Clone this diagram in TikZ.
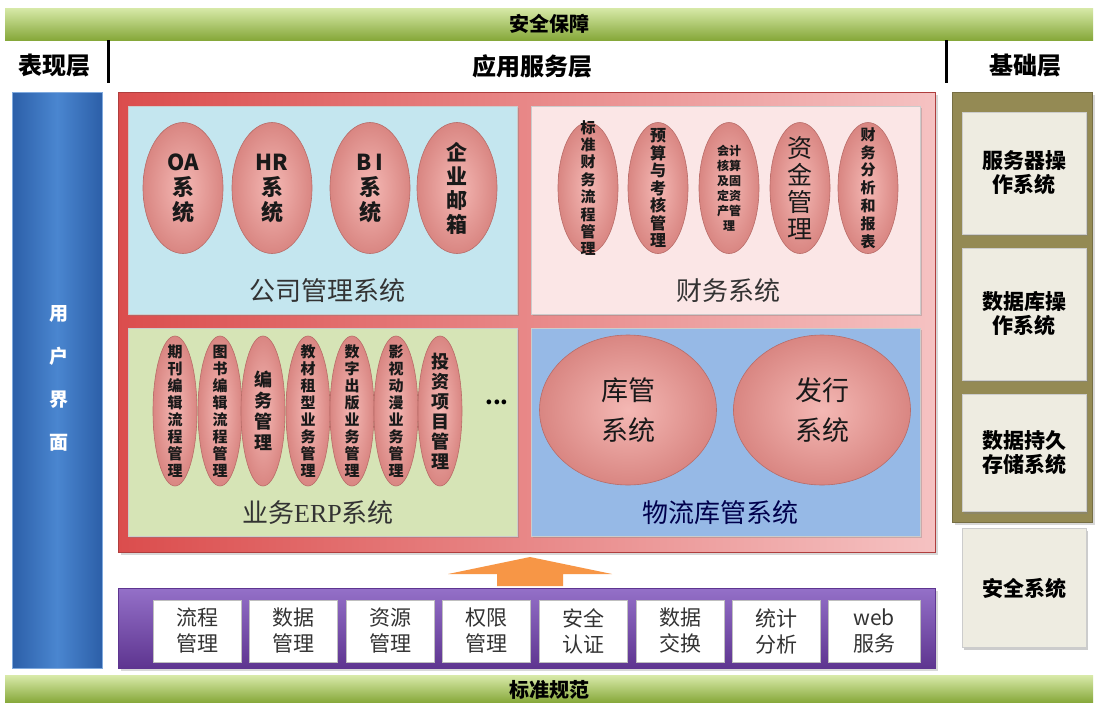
\documentclass[tikz,border=0pt]{standalone}
\usepackage{fontspec}
\setmainfont{Noto Sans CJK SC}
\newfontfamily\erpfont{Liberation Serif}
\usetikzlibrary{shapes.geometric,shadows}
\definecolor{barGreenTop}{HTML}{D7E9A8}
\definecolor{barGreenBot}{HTML}{86A83A}
\definecolor{uiBlueA}{HTML}{4A86D0}
\definecolor{uiBlueB}{HTML}{2C5FA8}
\definecolor{frameRedL}{HTML}{DB4D4D}
\definecolor{frameRedR}{HTML}{F5C2C2}
\definecolor{compBlue}{HTML}{C4E6EF}
\definecolor{finPink}{HTML}{FBE6E6}
\definecolor{erpGreen}{HTML}{D6E4B6}
\definecolor{logBlue}{HTML}{96B9E6}
\definecolor{ellIn}{HTML}{F4B8B4}
\definecolor{ellOut}{HTML}{D98682}
\definecolor{ellLine}{HTML}{B86C68}
\definecolor{arrowOrange}{HTML}{F79646}
\definecolor{purpTop}{HTML}{9470C8}
\definecolor{purpBot}{HTML}{5E3590}
\definecolor{olive}{HTML}{948A54}
\definecolor{beige}{HTML}{EEECE1}
\tikzset{
  greenbar/.style={rectangle, top color=barGreenTop, bottom color=barGreenBot, draw=none},
  layerhead/.style={font=\fontsize{24}{26}\selectfont\bfseries},
  sysbox/.style={rectangle, draw=white!80!black, line width=0.8pt, drop shadow={opacity=0.35, shadow xshift=2pt, shadow yshift=-2pt}},
  ell/.style={ellipse, draw=ellLine, line width=0.6pt, inner color=ellIn, outer color=ellOut, inner sep=0pt},
  elltext/.style={align=center, inner sep=0pt, text=black!90},
  systitle/.style={font=\fontsize{26}{30}\selectfont, text=black!80},
  svcbox/.style={rectangle, fill=white, draw=black!25, minimum width=88pt, minimum height=62pt, align=center, font=\fontsize{21}{26}\selectfont, text=black!80, inner sep=0pt},
  basebox/.style={rectangle, fill=beige, draw=black!20, minimum width=124pt, align=center, font=\fontsize{21}{24}\selectfont\bfseries, inner sep=0pt, drop shadow={opacity=0.4, shadow xshift=2pt, shadow yshift=-2pt}},
}
\begin{document}
\begin{tikzpicture}[x=1pt,y=-1pt]
\useasboundingbox (0,0) rectangle (1098,702);
\fill[white] (0,0) rectangle (1098,702);

% top and bottom bars
\node[greenbar, minimum width=1088pt, minimum height=32pt] (topbar) at (549,24) {};
\node[font=\fontsize{20}{22}\selectfont\bfseries] (topbarlbl) at (549,24) {安全保障};
\node[greenbar, minimum width=1088pt, minimum height=27pt] (botbar) at (549,689) {};
\node[font=\fontsize{20}{22}\selectfont\bfseries] (botbarlbl) at (549,690) {标准规范};

% layer heads
\node[layerhead] (hpres) at (54,66) {表现层};
\node[layerhead] (happ) at (532,66) {应用服务层};
\node[layerhead] (hbase) at (1025,66) {基础层};
\coordinate (sepAtop) at (108,40); \coordinate (sepAbot) at (108,83);
\coordinate (sepBtop) at (946,40); \coordinate (sepBbot) at (946,83);
\draw[line width=3pt] (sepAtop) -- (sepAbot);
\draw[line width=3pt] (sepBtop) -- (sepBbot);

% user interface bar
\node[rectangle, left color=uiBlueB, right color=uiBlueB, middle color=uiBlueA, draw=uiBlueA!70!white, minimum width=90pt, minimum height=576pt] (ui) at (57,380) {};
\node[align=center, text=white, font=\fontsize{19}{43}\selectfont\bfseries] (uilbl) at (59,378) {用\\户\\界\\面};

% red application frame
\node[rectangle, left color=frameRedL, right color=frameRedR, draw=frameRedL!80!black, line width=0.6pt, minimum width=817pt, minimum height=460pt, drop shadow={opacity=0.3}] (appframe) at (526.5,322) {};

% company management
\node[sysbox, fill=compBlue, minimum width=389pt, minimum height=208pt] (comp) at (322.5,210) {};
\foreach \nm/\cx in {oa/183, hr/272, bi/370, mail/457}
  \node[ell, minimum width=80pt, minimum height=131pt] (\nm) at (\cx,188) {};
\node[elltext, font=\fontsize{22}{25}\selectfont\bfseries] (oat) at (oa) {OA\\系\\统};
\node[elltext, font=\fontsize{22}{25}\selectfont\bfseries] (hrt) at (hr) {HR\\系\\统};
\node[elltext, font=\fontsize{22}{25}\selectfont\bfseries] (bit) at (bi) {B\,I\\系\\统};
\node[elltext, font=\fontsize{21}{24}\selectfont\bfseries] (mailt) at (mail) {企\\业\\邮\\箱};
\node[systitle] (comptitle) at (327,291) {公司管理系统};

% finance
\node[sysbox, fill=finPink, minimum width=389pt, minimum height=208pt] (fin) at (725.5,210) {};
\foreach \nm/\cx in {f1/588, f2/658, f3/729, f4/800, f5/868}
  \node[ell, minimum width=60pt, minimum height=131pt] (\nm) at (\cx,188) {};
\node[elltext, font=\fontsize{15}{17.4}\selectfont\bfseries] (f1t) at (f1) {标\\准\\财\\务\\流\\程\\管\\理};
\node[elltext, font=\fontsize{16}{17.5}\selectfont\bfseries] (f2t) at (f2) {预\\算\\与\\考\\核\\管\\理};
\node[elltext, font=\fontsize{12}{15}\selectfont\bfseries] (f3t) at (f3) {会计\\核算\\及固\\定资\\产管\\理};
\node[elltext, font=\fontsize{25}{27}\selectfont] (f4t) at (f4) {资\\金\\管\\理};
\node[elltext, font=\fontsize{15}{17.8}\selectfont\bfseries] (f5t) at (f5) {财\\务\\分\\析\\和\\报\\表};
\node[systitle] (fintitle) at (728,291) {财务系统};

% business ERP
\node[sysbox, fill=erpGreen, minimum width=389pt, minimum height=208pt] (erp) at (322.5,432) {};
\foreach \nm/\cx in {e1/175, e2/220, e3/263, e4/308, e5/352, e6/396, e7/440}
  \node[ell, minimum width=44pt, minimum height=150pt] (\nm) at (\cx,411) {};
\node[elltext, font=\fontsize{15}{17}\selectfont\bfseries] (e1t) at (e1) {期\\刊\\编\\辑\\流\\程\\管\\理};
\node[elltext, font=\fontsize{15}{17}\selectfont\bfseries] (e2t) at (e2) {图\\书\\编\\辑\\流\\程\\管\\理};
\node[elltext, font=\fontsize{18}{21}\selectfont\bfseries] (e3t) at (e3) {编\\务\\管\\理};
\node[elltext, font=\fontsize{15}{17}\selectfont\bfseries] (e4t) at (e4) {教\\材\\租\\型\\业\\务\\管\\理};
\node[elltext, font=\fontsize{15}{17}\selectfont\bfseries] (e5t) at (e5) {数\\字\\出\\版\\业\\务\\管\\理};
\node[elltext, font=\fontsize{15}{17}\selectfont\bfseries] (e6t) at (e6) {影\\视\\动\\漫\\业\\务\\管\\理};
\node[elltext, font=\fontsize{18}{20}\selectfont\bfseries] (e7t) at (e7) {投\\资\\项\\目\\管\\理};
\node[font=\fontsize{22}{22}\selectfont\bfseries] (edots) at (497,402) {...};
\node[systitle] (erptitle) at (318,513) {业务{\erpfont ERP}系统};

% logistics
\node[sysbox, fill=logBlue, minimum width=389pt, minimum height=208pt] (log) at (725.5,432) {};
\node[ell, minimum width=177pt, minimum height=150pt] (lg1) at (628,410) {};
\node[ell, minimum width=177pt, minimum height=150pt] (lg2) at (822,410) {};
\node[elltext, font=\fontsize{27}{40}\selectfont] (lg1t) at (lg1) {库管\\系统};
\node[elltext, font=\fontsize{27}{40}\selectfont] (lg2t) at (lg2) {发行\\系统};
\node[systitle, text=black!70!blue] (logtitle) at (720,513) {物流库管系统};

% arrow
\fill[arrowOrange] (530,557) -- (612,574) -- (563,574) -- (563,586) -- (497,586) -- (497,574) -- (448,574) -- cycle;

% services bar
\node[rectangle, top color=purpTop, bottom color=purpBot, draw=purpBot, minimum width=817pt, minimum height=80pt, drop shadow={opacity=0.3}] (svcbar) at (526.5,628) {};
\node[svcbox] (s1) at (197,631) {流程\\管理};
\node[svcbox] (s2) at (293.5,631) {数据\\管理};
\node[svcbox] (s3) at (390,631) {资源\\管理};
\node[svcbox] (s4) at (486.5,631) {权限\\管理};
\node[svcbox] (s5) at (583.5,631) {安全\\认证};
\node[svcbox] (s6) at (680,631) {数据\\交换};
\node[svcbox] (s7) at (776.5,631) {统计\\分析};
\node[svcbox, minimum width=92pt] (s8) at (874,631) {web\\服务};

% base layer
\node[rectangle, fill=olive, draw=olive!80!black, minimum width=140pt, minimum height=430pt, drop shadow={opacity=0.3}] (baseframe) at (1022,307) {};
\node[basebox, minimum height=122pt] (b1) at (1024,173) {服务器操\\作系统};
\node[basebox, minimum height=132pt] (b2) at (1024,314) {数据库操\\作系统};
\node[basebox, minimum height=117pt] (b3) at (1024,453) {数据持久\\存储系统};
\node[basebox, minimum height=119pt] (b4) at (1024,588) {安全系统};
\end{tikzpicture}
\end{document}
